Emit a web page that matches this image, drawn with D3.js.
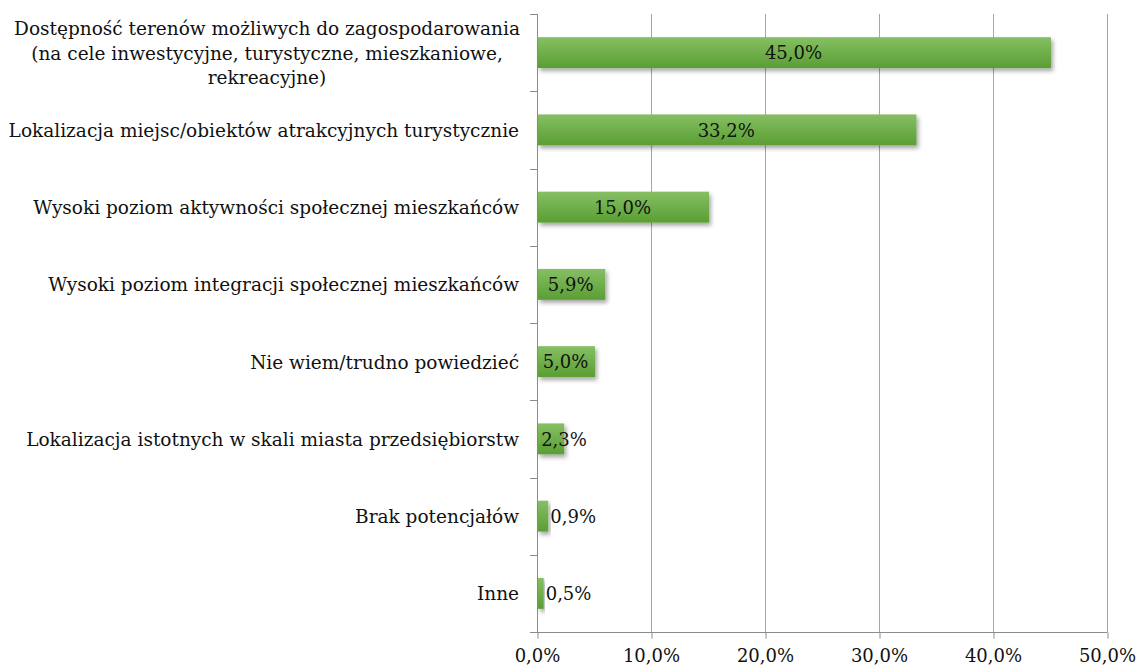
<!DOCTYPE html>
<html>
<head>
<meta charset="utf-8">
<script src="https://cdn.jsdelivr.net/npm/d3@7"></script>
<style>
  body { margin: 0; background: #fff; }
  svg text { font-family: "DejaVu Serif", "Liberation Serif", serif; fill: #111; }
</style>
</head>
<body>
<div id="chart"></div>
<script>
var categories = [
  ["Dostępność terenów możliwych do zagospodarowania", "(na cele inwestycyjne, turystyczne, mieszkaniowe,", "rekreacyjne)"],
  ["Lokalizacja miejsc/obiektów atrakcyjnych turystycznie"],
  ["Wysoki poziom aktywności społecznej mieszkańców"],
  ["Wysoki poziom integracji społecznej mieszkańców"],
  ["Nie wiem/trudno powiedzieć"],
  ["Lokalizacja istotnych w skali miasta przedsiębiorstw"],
  ["Brak potencjałów"],
  ["Inne"]
]
var values = [45.0, 33.2, 15.0, 5.9, 5.0, 2.3, 0.9, 0.5]
var ticks = [0, 10, 20, 30, 40, 50]

var width = 1139, height = 666
var margin = {top: 14, right: 32, bottom: 34, left: 537}

var fmt = function(v) { return v.toFixed(1).replace('.', ',') + '%' }

var svg = d3.select('#chart').append('svg')
    .attr('width', width)
    .attr('height', height)

var defs = svg.append('defs')
var grad = defs.append('linearGradient')
    .attr('id', 'barGrad')
    .attr('x1', 0).attr('y1', 0).attr('x2', 0).attr('y2', 1)
grad.append('stop').attr('offset', '0%').attr('stop-color', '#86bf64')
grad.append('stop').attr('offset', '100%').attr('stop-color', '#5a9e33')

var shadow = defs.append('filter').attr('id', 'shadow')
    .attr('x', '-10%').attr('y', '-30%').attr('width', '130%').attr('height', '180%')
shadow.append('feDropShadow')
    .attr('dx', 2).attr('dy', 3).attr('stdDeviation', 2)
    .attr('flood-color', '#000').attr('flood-opacity', 0.35)

var x = d3.scaleLinear().domain([0, 50]).range([margin.left, width - margin.right])
var y = d3.scaleBand().domain(d3.range(values.length))
    .range([margin.top, height - margin.bottom])
    .paddingInner(0.6).paddingOuter(0.3)

var plotBottom = height - margin.bottom

// vertical gridlines
svg.append('g').selectAll('line')
  .data(ticks.slice(1))
  .join('line')
    .attr('x1', function(d) { return x(d) + 0.5 })
    .attr('x2', function(d) { return x(d) + 0.5 })
    .attr('y1', margin.top)
    .attr('y2', plotBottom)
    .attr('stroke', '#a6a6a6')

// bottom axis
var xAxis = d3.axisBottom(x)
    .tickValues(ticks)
    .tickSize(6)
    .tickSizeOuter(0)
    .tickFormat(fmt)

var gx = svg.append('g')
    .attr('transform', 'translate(0,' + (plotBottom + 0.5) + ')')
    .call(xAxis)
gx.select('.domain').attr('stroke', '#8c8c8c').attr('d', 'M' + (margin.left - 7) + ',0H' + (x(50) + 0.5))
gx.selectAll('.tick line').attr('stroke', '#8c8c8c').attr('transform', 'translate(0.5,0)')
gx.selectAll('.tick text')
    .attr('y', 17)
    .style('font-family', '"DejaVu Serif", serif')
    .style('font-size', '18px')
    .attr('fill', '#111')

// left axis line with ticks at band boundaries
var leftG = svg.append('g')
leftG.append('line')
    .attr('x1', margin.left + 0.5).attr('x2', margin.left + 0.5)
    .attr('y1', margin.top).attr('y2', plotBottom)
    .attr('stroke', '#8c8c8c')
leftG.selectAll('line.tk')
  .data(d3.range(values.length))
  .join('line')
    .attr('class', 'tk')
    .attr('x1', margin.left - 7).attr('x2', margin.left)
    .attr('y1', function(i) { return Math.round(margin.top + i * (plotBottom - margin.top) / values.length) + 0.5 })
    .attr('y2', function(i) { return Math.round(margin.top + i * (plotBottom - margin.top) / values.length) + 0.5 })
    .attr('stroke', '#8c8c8c')

// bars
svg.append('g').selectAll('rect')
  .data(values)
  .join('rect')
    .attr('x', x(0) + 1)
    .attr('y', function(d, i) { return y(i) })
    .attr('width', function(d) { return x(d) - x(0) })
    .attr('height', y.bandwidth())
    .attr('fill', 'url(#barGrad)')
    .attr('filter', 'url(#shadow)')

// value labels
svg.append('g').selectAll('text')
  .data(values)
  .join('text')
    .attr('x', function(d) {
      if (d < 1) return x(d) + 3
      var mid = (x(0) + x(d)) / 2
      return Math.max(mid, x(0) + 27)
    })
    .attr('y', function(d, i) { return y(i) + y.bandwidth() / 2 })
    .attr('dy', '0.38em')
    .attr('text-anchor', function(d) { return d < 1 ? 'start' : 'middle' })
    .style('font-size', '18px')
    .text(fmt)

// category labels
var labels = svg.append('g').selectAll('text')
  .data(categories)
  .join('text')
    .attr('text-anchor', function(d) { return d.length > 1 ? 'middle' : 'end' })
    .attr('transform', function(d, i) {
      var cy = y(i) + y.bandwidth() / 2
      var tx = d.length > 1 ? 267 : 519
      return 'translate(' + tx + ',' + cy + ')'
    })
    .style('font-size', '18.5px')

labels.selectAll('tspan')
  .data(function(d) { return d.map(function(t, k) { return {t: t, k: k, n: d.length} }) })
  .join('tspan')
    .attr('x', 0)
    .attr('y', function(d) { return (d.k - (d.n - 1) / 2) * 24.5 })
    .attr('dy', '0.38em')
    .text(function(d) { return d.t })
</script>
</body>
</html>
